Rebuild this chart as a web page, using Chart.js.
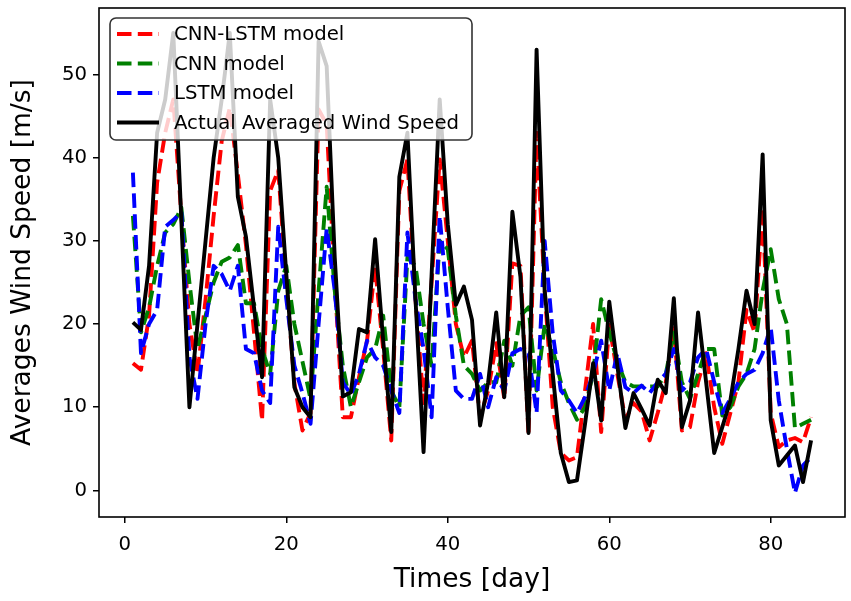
<!DOCTYPE html>
<html>
<head>
<meta charset="utf-8">
<script src="https://cdn.jsdelivr.net/npm/chart.js@4/dist/chart.umd.min.js"></script>
<style>
  html, body { margin: 0; padding: 0; background: #fff; }
  #wrap { width: 851px; height: 601px; }
</style>
</head>
<body>
<div id="wrap"><canvas id="chart" width="851" height="601"></canvas></div>
<script>
// --- Data ---
const days = Array.from({ length: 85 }, (_, i) => i + 1);

const cnnLstm = [
  15.3, 14.5, 21, 37, 43, 47, 33, 20, 14, 23,
  33, 42, 46, 38, 29.5, 19, 8.4, 36, 38.5, 25,
  12.9, 7.2, 9.3, 45.8, 44, 25, 8.8, 8.8, 13.6, 18,
  26.9, 16.9, 6, 36, 39.8, 23, 10.5, 25, 39.8, 30,
  20, 16, 18, 8.8, 12, 17.7, 11, 27.3, 27, 6.6,
  43, 24, 10, 4.5, 3.6, 4, 12, 20, 7, 19.9,
  14, 8.5, 10.5, 9.5, 6, 9.3, 13, 19.5, 7.2, 7.6,
  13, 16.5, 10, 5.6, 9.3, 13, 21.7, 19, 34, 9.3,
  5.2, 6, 6.3, 5.8, 8.8
];

const cnn = [
  33, 19, 22, 27, 31, 32, 34, 25, 17, 21,
  25, 27.5, 28, 29.5, 22.5, 22.5, 17, 14, 24, 27,
  20, 15.5, 11, 24, 36.5, 24, 15, 10, 13, 16,
  17, 21, 12, 10, 28, 27, 20, 15, 30, 29,
  21, 15, 14, 12, 13, 13, 18, 15, 21, 22,
  12, 20, 17, 13, 10.5, 8.5, 10, 14, 23, 19,
  15.5, 13, 12.5, 12.5, 12.5, 12.5, 14, 19, 13, 11,
  14, 17, 17, 9, 10, 12.5, 14, 17, 24, 29,
  23, 20, 7.5, 8, 8.5
];

const lstm = [
  38.2, 16.5, 20, 21.7, 31.7, 32.5, 33.5, 16, 11, 20,
  27, 26, 24, 27, 17, 16.5, 12, 10.5, 31.7, 23,
  15, 11.7, 8, 20, 31.5, 24, 13, 11.5, 14, 18,
  16, 15, 12, 9.3, 31, 23, 17, 8.8, 33, 22,
  12, 11, 11, 14, 10, 13.6, 12, 16.5, 17, 16.5,
  9.3, 30, 18.9, 12, 10.8, 9.3, 11.2, 14, 18, 12,
  16.5, 12.4, 11.7, 12.6, 11.7, 13, 14, 17, 12, 13,
  16, 17, 13, 9.3, 11, 13, 14, 14.5, 16.5, 19.6,
  10.8, 5, -0.3, 3, 4
];

const actual = [
  20.2, 19.3, 27, 43, 47, 55, 32.5, 10, 20, 30,
  40, 47, 55, 35.3, 30.5, 22, 13.6, 47, 40, 26,
  12.4, 10, 8.8, 54, 51, 28, 11.3, 11.8, 19.4, 19,
  30.2, 18, 7, 37.7, 43, 23, 4.6, 26, 47, 32,
  22.3, 24.5, 20.5, 7.8, 13, 21.4, 11.2, 33.5, 25.7, 6.9,
  53, 24, 14, 4.5, 1, 1.2, 8, 15.3, 8.4, 22.7,
  15, 7.5, 11.7, 9.8, 7.8, 13.3, 11.7, 23.1, 7.6, 10.8,
  21.4, 13, 4.5, 7.6, 10.8, 17, 24, 20, 40.4, 8.4,
  3, 4.2, 5.4, 1, 6
];

const xTicks = [0, 20, 40, 60, 80];
const yTicks = [0, 10, 20, 30, 40, 50];

const FONT = 'DejaVu Sans';
const LW = 3.9;
const DASH = [14.5, 6.3];

function pts(values) {
  return values.map((v, i) => ({ x: days[i], y: v }));
}

// frame + matplotlib-style legend box
const framePlugin = {
  id: 'frame',
  afterDatasetsDraw(chart) {
    const { ctx, chartArea: a } = chart;
    ctx.save();
    ctx.strokeStyle = '#000';
    ctx.lineWidth = 1.6;
    ctx.strokeRect(a.left, a.top, a.right - a.left, a.bottom - a.top);

    // legend
    const bx = a.left + 11, by = a.top + 10, bw = 362, bh = 122, r = 6;
    ctx.beginPath();
    ctx.moveTo(bx + r, by);
    ctx.arcTo(bx + bw, by, bx + bw, by + bh, r);
    ctx.arcTo(bx + bw, by + bh, bx, by + bh, r);
    ctx.arcTo(bx, by + bh, bx, by, r);
    ctx.arcTo(bx, by, bx + bw, by, r);
    ctx.closePath();
    ctx.fillStyle = 'rgba(255,255,255,0.8)';
    ctx.fill();
    ctx.strokeStyle = '#333';
    ctx.lineWidth = 1.6;
    ctx.stroke();

    const items = [...chart.data.datasets].sort((p, q) => p.legendIndex - q.legendIndex);
    ctx.font = '19.7px "' + FONT + '"';
    ctx.textBaseline = 'middle';
    items.forEach((ds, i) => {
      const y = by + 16 + i * 29.5;
      ctx.beginPath();
      ctx.setLineDash(ds.borderDash || []);
      ctx.strokeStyle = ds.borderColor;
      ctx.lineWidth = LW;
      ctx.moveTo(bx + 7, y);
      ctx.lineTo(bx + 49, y);
      ctx.stroke();
      ctx.setLineDash([]);
      ctx.fillStyle = '#000';
      ctx.fillText(ds.label, bx + 64, y + 1);
    });
    ctx.restore();
  }
};

function lineSet(label, values, color, dashed, order, legendIndex) {
  return {
    label,
    data: pts(values),
    borderColor: color,
    backgroundColor: color,
    borderWidth: LW,
    borderDash: dashed ? DASH : [],
    borderJoinStyle: 'round',
    pointRadius: 0,
    tension: 0,
    fill: false,
    order,
    legendIndex
  };
}

new Chart(document.getElementById('chart').getContext('2d'), {
  type: 'line',
  data: {
    datasets: [
      lineSet('CNN-LSTM model', cnnLstm, '#ff0000', true, 3, 0),
      lineSet('CNN model', cnn, '#008000', true, 2, 1),
      lineSet('LSTM model', lstm, '#0000ff', true, 1, 2),
      lineSet('Actual Averaged Wind Speed', actual, '#000000', false, 0, 3)
    ]
  },
  options: {
    responsive: false,
    animation: false,
    layout: { padding: { top: 8, right: 6, left: 0, bottom: 0 } },
    plugins: { legend: { display: false }, tooltip: { enabled: false } },
    scales: {
      x: {
        type: 'linear',
        min: -3.2,
        max: 89.2,
        afterBuildTicks: s => { s.ticks = xTicks.map(v => ({ value: v })); },
        afterFit: s => { s.height = 84; s.paddingLeft = 0; s.paddingRight = 0; },
        border: { display: false },
        grid: { drawOnChartArea: false, drawTicks: true, tickLength: 6, color: '#000', lineWidth: 1.5 },
        ticks: { color: '#000', font: { family: FONT, size: 19.7 }, padding: 10, maxRotation: 0 },
        title: { display: true, text: 'Times [day]', color: '#000', font: { family: FONT, size: 26.5 }, padding: { top: 0, bottom: 5 } }
      },
      y: {
        type: 'linear',
        min: -3.2,
        max: 58,
        afterBuildTicks: s => { s.ticks = yTicks.map(v => ({ value: v })); },
        afterFit: s => { s.width = 99; s.paddingTop = 0; s.paddingBottom = 0; },
        border: { display: false },
        grid: { drawOnChartArea: false, drawTicks: true, tickLength: 6, color: '#000', lineWidth: 1.5 },
        ticks: { color: '#000', font: { family: FONT, size: 19.7 }, padding: 6 },
        title: { display: true, text: 'Averages Wind Speed [m/s]', color: '#000', font: { family: FONT, size: 26.5 }, padding: { top: 7, bottom: 0 } }
      }
    }
  },
  plugins: [framePlugin]
});
</script>
</body>
</html>
